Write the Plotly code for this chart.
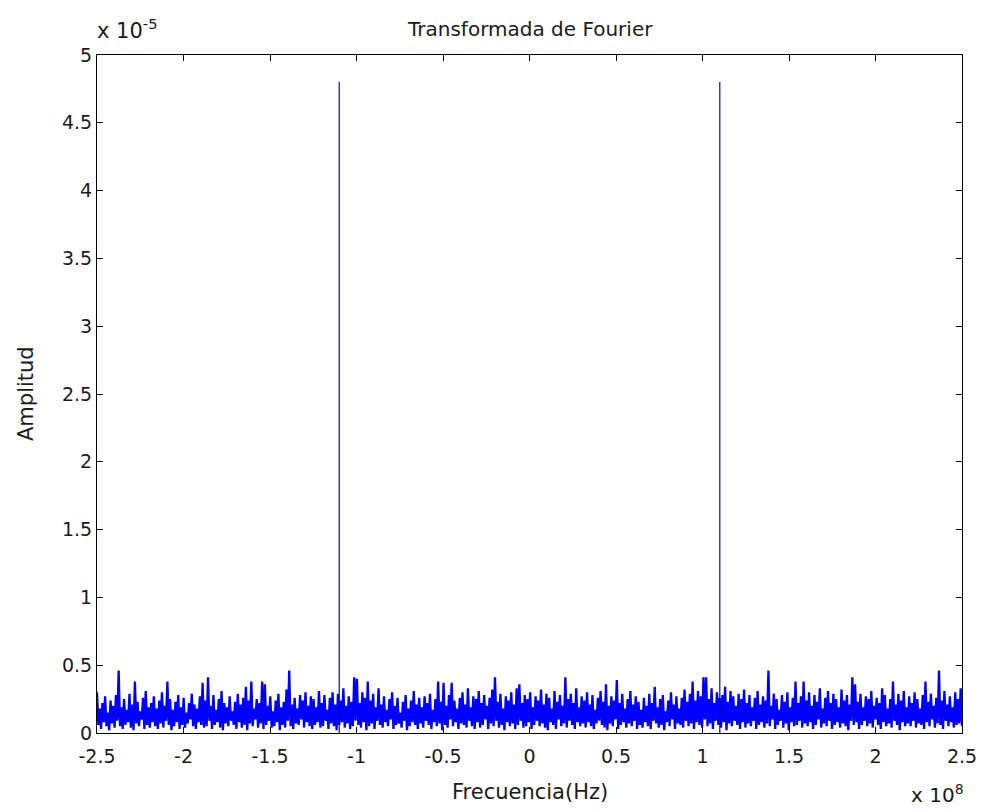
import numpy as np
import plotly.graph_objects as go

# ---------------- data (amplitudes in units of 1e-5) ----------------
ESCALA_Y = 1e-5
FREQ_MIN, FREQ_MAX = -2.5e8, 2.5e8

# local maxima of the noise floor (left to right)
amp_sup = [
    0.30,0.18,0.22,0.27,0.15,0.24,0.20,0.28,0.46,0.19,0.25,0.17,0.29,0.21,0.38,0.23,0.16,0.26,0.31,0.19,
    0.22,0.27,0.18,0.24,0.30,0.20,0.38,0.25,0.17,0.23,0.28,0.19,0.26,0.15,0.22,0.29,0.21,0.18,0.27,0.37,
    0.24,0.41,0.20,0.28,0.17,0.25,0.31,0.22,0.19,0.27,0.16,0.23,0.29,0.21,0.26,0.34,0.24,0.38,0.18,0.25,
    0.22,0.38,0.36,0.20,0.27,0.16,0.24,0.29,0.19,0.23,0.32,0.46,0.21,0.26,0.18,0.28,0.24,0.30,0.20,0.27,
    0.25,0.19,0.31,0.22,0.28,0.17,0.26,0.30,0.21,0.29,0.24,0.33,0.20,0.27,0.23,0.41,0.40,0.22,0.30,0.26,
    0.38,0.24,0.29,0.19,0.33,0.21,0.27,0.17,0.25,0.30,0.20,0.26,0.15,0.23,0.28,0.18,0.24,0.31,0.21,0.26,
    0.19,0.27,0.22,0.29,0.17,0.25,0.38,0.23,0.37,0.20,0.28,0.37,0.24,0.18,0.26,0.30,0.21,0.33,0.19,0.27,
    0.25,0.31,0.22,0.28,0.20,0.26,0.32,0.41,0.23,0.29,0.18,0.27,0.24,0.30,0.21,0.33,0.36,0.22,0.28,0.25,
    0.30,0.19,0.27,0.24,0.32,0.21,0.29,0.26,0.18,0.31,0.23,0.28,0.20,0.41,0.25,0.29,0.22,0.33,0.19,0.27,
    0.24,0.30,0.21,0.28,0.17,0.26,0.31,0.23,0.36,0.20,0.27,0.24,0.39,0.22,0.29,0.18,0.25,0.31,0.21,0.27,
    0.23,0.17,0.26,0.20,0.29,0.22,0.34,0.19,0.25,0.28,0.16,0.24,0.30,0.21,0.27,0.18,0.26,0.32,0.23,0.29,
    0.38,0.24,0.31,0.27,0.41,0.41,0.25,0.33,0.22,0.30,0.26,0.28,0.34,0.23,0.31,0.27,0.20,0.29,0.25,0.32,
    0.22,0.28,0.19,0.26,0.31,0.21,0.27,0.24,0.46,0.20,0.29,0.25,0.17,0.28,0.23,0.30,0.19,0.26,0.38,0.22,
    0.27,0.38,0.24,0.30,0.20,0.28,0.23,0.33,0.18,0.26,0.31,0.22,0.29,0.25,0.19,0.32,0.24,0.28,0.21,0.41,
    0.36,0.23,0.29,0.19,0.27,0.25,0.31,0.20,0.26,0.22,0.33,0.28,0.18,0.25,0.38,0.21,0.29,0.24,0.31,0.19,
    0.27,0.22,0.30,0.25,0.18,0.28,0.38,0.23,0.29,0.20,0.26,0.46,0.24,0.31,0.21,0.27,0.19,0.30,0.25,0.33,
]

# local minima of the noise floor (left to right)
amp_inf = [
    0.06,0.03,0.08,0.05,0.02,0.07,0.04,0.09,0.05,0.03,0.06,0.08,0.04,0.02,0.07,0.05,0.10,0.03,0.06,0.04,
    0.08,0.05,0.03,0.07,0.04,0.09,0.06,0.02,0.05,0.08,0.03,0.06,0.04,0.07,0.10,0.05,0.03,0.08,0.06,0.04,
    0.05,0.09,0.03,0.06,0.08,0.04,0.02,0.07,0.05,0.09,0.06,0.03,0.08,0.04,0.06,0.02,0.07,0.05,0.10,0.04,
    0.07,0.03,0.06,0.09,0.04,0.05,0.08,0.02,0.06,0.04,0.09,0.05,0.03,0.07,0.06,0.10,0.04,0.08,0.05,0.03,
    0.06,0.08,0.04,0.05,0.09,0.03,0.07,0.05,0.02,0.06,0.08,0.04,0.07,0.03,0.05,0.09,0.06,0.04,0.08,0.02,
    0.05,0.07,0.03,0.09,0.06,0.04,0.08,0.05,0.10,0.03,0.06,0.07,0.04,0.09,0.02,0.05,0.08,0.06,0.03,0.07,
    0.04,0.09,0.06,0.03,0.08,0.05,0.07,0.02,0.06,0.04,0.10,0.05,0.08,0.03,0.07,0.06,0.04,0.09,0.05,0.03,
    0.08,0.04,0.06,0.10,0.03,0.07,0.05,0.09,0.04,0.06,0.02,0.08,0.05,0.07,0.03,0.06,0.09,0.04,0.05,0.08,
    0.03,0.06,0.09,0.05,0.07,0.04,0.02,0.08,0.06,0.03,0.10,0.05,0.07,0.04,0.09,0.06,0.03,0.08,0.05,0.07,
    0.04,0.08,0.05,0.03,0.07,0.09,0.06,0.04,0.02,0.07,0.05,0.10,0.03,0.06,0.08,0.04,0.07,0.05,0.09,0.03,
    0.06,0.04,0.08,0.05,0.03,0.09,0.07,0.04,0.06,0.02,0.08,0.05,0.10,0.03,0.07,0.06,0.04,0.09,0.05,0.07,
    0.03,0.08,0.06,0.04,0.10,0.05,0.07,0.03,0.09,0.06,0.04,0.08,0.02,0.07,0.05,0.09,0.06,0.03,0.08,0.04,
    0.07,0.05,0.09,0.03,0.06,0.08,0.04,0.07,0.05,0.10,0.03,0.06,0.09,0.04,0.07,0.02,0.08,0.05,0.06,0.09,
    0.04,0.07,0.05,0.08,0.03,0.06,0.10,0.04,0.07,0.05,0.09,0.03,0.06,0.08,0.04,0.07,0.05,0.02,0.09,0.06,
    0.08,0.03,0.06,0.09,0.05,0.07,0.04,0.10,0.06,0.03,0.08,0.05,0.07,0.04,0.09,0.06,0.02,0.08,0.05,0.07,
    0.05,0.09,0.04,0.07,0.06,0.03,0.08,0.05,0.10,0.04,0.07,0.06,0.03,0.09,0.05,0.08,0.04,0.06,0.07,0.05,
]

# the two spectral lines
picos_freq = [-1.1e8, 1.1e8]
picos_amp = [4.8, 4.8]

# tick labels
x_tickvals = [-2.5e8, -2e8, -1.5e8, -1e8, -0.5e8, 0, 0.5e8, 1e8, 1.5e8, 2e8, 2.5e8]
x_ticktext = ["-2.5", "-2", "-1.5", "-1", "-0.5", "0", "0.5", "1", "1.5", "2", "2.5"]
y_tickvals = [0, 0.5, 1, 1.5, 2, 2.5, 3, 3.5, 4, 4.5, 5]
y_ticktext = ["0", "0.5", "1", "1.5", "2", "2.5", "3", "3.5", "4", "4.5", "5"]

# ---------------- build the spectrum ----------------
sup = np.array(amp_sup)
inf = np.array(amp_inf)
ruido = np.empty(sup.size + inf.size)
ruido[0::2] = sup
ruido[1::2] = inf
freq_ruido = np.linspace(FREQ_MIN, FREQ_MAX, ruido.size)

# stems of the two spectral lines (from zero up to their amplitude)
stem_x, stem_y = [], []
for f, a in zip(picos_freq, picos_amp):
    stem_x += [f, f, None]
    stem_y += [0.0, a * ESCALA_Y, None]

FONT = "DejaVu Sans"
TXT = "#1a1a1a"
AZUL = "#0000ff"

fig = go.Figure()
fig.add_trace(go.Scatter(
    x=freq_ruido, y=ruido * ESCALA_Y, mode="lines",
    line=dict(color=AZUL, width=2.3),
    showlegend=False, hoverinfo="skip",
))
fig.add_trace(go.Scatter(
    x=stem_x, y=stem_y, mode="lines",
    line=dict(color="#0a0a9a", width=1.2),
    showlegend=False, hoverinfo="skip",
))

axis_common = dict(
    showline=True, linecolor="black", linewidth=1, mirror="ticks",
    ticks="inside", ticklen=6, tickcolor="black", tickwidth=1,
    showgrid=False, zeroline=False, automargin=False,
    tickfont=dict(family=FONT, size=19, color=TXT),
)

fig.update_layout(
    width=981, height=812,
    margin=dict(l=97, r=19, t=55, b=79),
    paper_bgcolor="white", plot_bgcolor="white",
    xaxis=dict(range=[FREQ_MIN, FREQ_MAX], tickmode="array",
               tickvals=x_tickvals, ticktext=x_ticktext,
               ticklabelstandoff=6, **axis_common),
    yaxis=dict(range=[0, 5 * ESCALA_Y], tickmode="array",
               tickvals=[v * ESCALA_Y for v in y_tickvals], ticktext=y_ticktext,
               **axis_common),
    annotations=[
        dict(text="Transformada de Fourier", xref="paper", yref="paper",
             x=0.5, y=1, xanchor="center", yanchor="bottom", yshift=12,
             showarrow=False, font=dict(family=FONT, size=20, color=TXT)),
        dict(text="Frecuencia(Hz)", xref="paper", yref="paper",
             x=0.5, y=0, xanchor="center", yanchor="top", yshift=-45,
             showarrow=False, font=dict(family=FONT, size=21, color=TXT)),
        dict(text="Amplitud", xref="paper", yref="paper", textangle=-90,
             x=0, y=0.5, xanchor="center", yanchor="middle", xshift=-71,
             showarrow=False, font=dict(family=FONT, size=21, color=TXT)),
        dict(text="x 10<sup>-5</sup>", xref="paper", yref="paper",
             x=0, y=1, xanchor="left", yanchor="bottom", yshift=10, xshift=-2,
             showarrow=False, font=dict(family=FONT, size=21, color=TXT)),
        dict(text="x 10<sup>8</sup>", xref="paper", yref="paper",
             x=1, y=0, xanchor="right", yanchor="top", yshift=-46, xshift=4,
             showarrow=False, font=dict(family=FONT, size=20, color=TXT)),
    ],
)

fig.write_html("out.html")
